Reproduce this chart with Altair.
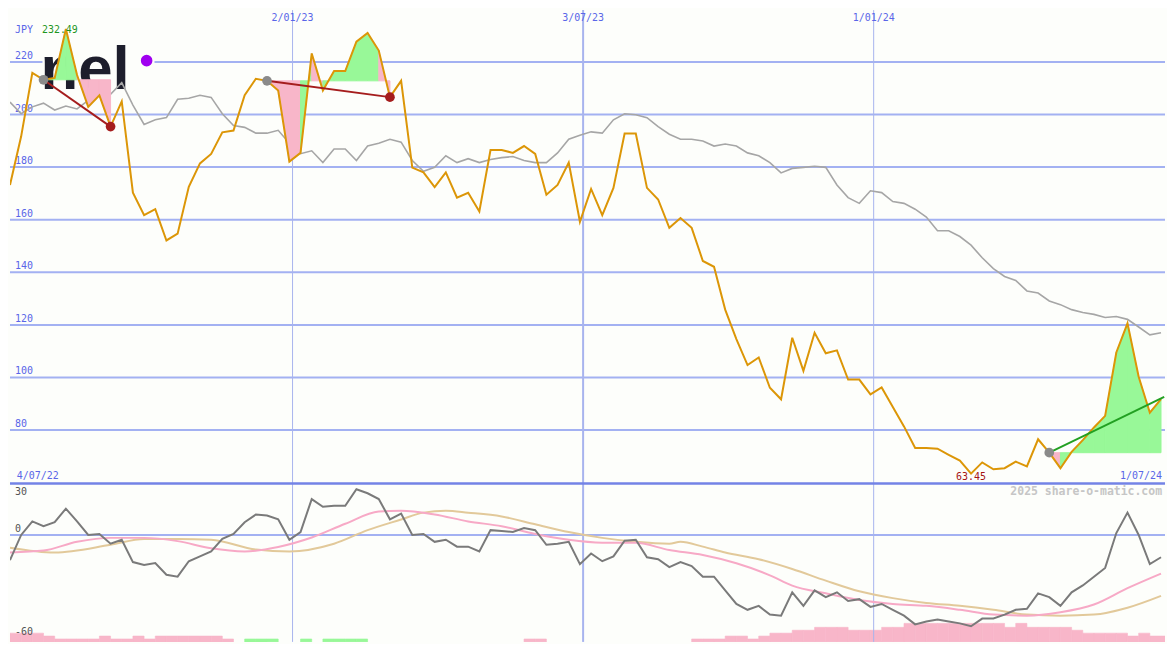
import altair as alt
import pandas as pd

# ---------------- data ----------------
DATES = pd.date_range("2022-07-09", periods=105, freq="7D").strftime("%Y-%m-%d").tolist()

PRICE = [173.2, 191.7, 215.8, 213.2, 213.9, 232.49, 215.0, 202.9, 207.3, 195.4,
         205.0, 170.3, 161.7, 164.0, 152.1, 154.7, 172.5, 181.4, 185.0, 193.2,
         193.9, 207.3, 213.6, 212.8, 209.1, 182.1, 185.4, 223.2, 209.1, 216.5,
         216.5, 227.7, 231.0, 224.3, 206.6, 212.8, 179.8, 178.0, 172.4, 178.0,
         168.4, 170.2, 163.1, 186.5, 186.5, 185.4, 188.0, 185.0, 169.5, 173.2,
         181.7, 159.2, 171.7, 161.7, 172.1, 192.8, 192.8, 172.1, 167.7, 156.9,
         160.6, 156.9, 144.3, 142.1, 125.8, 114.6, 104.7, 107.6, 96.1, 91.7,
         115.1, 102.5, 117.0, 109.2, 110.3, 99.2, 99.2, 93.6, 96.2, 88.8,
         81.4, 73.2, 73.2, 72.9, 70.6, 68.4, 63.45, 67.7, 65.1, 65.5,
         68.0, 66.2, 76.5, 71.4, 65.5, 71.7, 76.2, 81.0, 85.4, 109.5,
         120.6, 100.3, 86.6, 91.8]

AVG = [204.7, 200.3, 202.9, 204.3, 201.7, 203.2, 202.1, 205.4, 209.9, 207.7,
       212.1, 203.6, 196.2, 198.0, 198.8, 205.8, 206.2, 207.3, 206.5, 200.3,
       195.8, 195.1, 192.9, 192.9, 194.0, 189.1, 185.1, 186.2, 181.7, 186.9,
       186.9, 182.5, 188.0, 189.1, 190.6, 189.5, 182.5, 178.4, 179.9, 184.3,
       181.7, 183.2, 181.7, 182.9, 183.6, 184.0, 182.5, 181.7, 181.7, 185.4,
       190.6, 192.1, 193.4, 192.9, 198.0, 200.3, 199.9, 198.8, 195.4, 192.5,
       190.6, 190.6, 189.9, 188.0, 188.8, 188.0, 185.4, 184.3, 181.7, 177.8,
       179.5, 179.9, 180.3, 179.9, 173.2, 168.4, 166.2, 171.0, 170.3, 166.9,
       166.2, 164.0, 161.0, 155.8, 155.8, 153.6, 150.3, 145.5, 141.4, 138.4,
       136.9, 132.9, 132.1, 129.1, 127.7, 125.8, 124.7, 124.0, 122.8, 123.2,
       122.1, 119.2, 116.2, 117.0]

OSC = [-14.7, 0.0, 7.9, 5.1, 7.4, 15.3, 7.9, 0.0, 0.6, -5.1,
       -2.8, -15.8, -17.5, -16.4, -23.2, -24.3, -15.3, -12.5, -9.6, -2.3,
       0.6, 7.4, 11.9, 11.3, 9.1, -2.8, 1.7, 20.9, 16.4, 17.0,
       17.0, 26.6, 24.3, 20.9, 9.1, 12.5, 0.0, 0.6, -4.0, -2.8,
       -6.8, -6.8, -9.6, 2.8, 2.3, 1.7, 4.0, 2.8, -5.7, -5.1,
       -4.0, -17.0, -10.8, -15.3, -12.5, -3.4, -2.8, -13.0, -14.1, -18.7,
       -15.8, -18.1, -24.3, -24.3, -32.3, -40.2, -43.6, -41.3, -46.4, -47.0,
       -33.4, -41.3, -32.3, -36.2, -33.4, -38.5, -37.4, -41.9, -40.2, -43.6,
       -47.0, -52.1, -50.4, -49.2, -50.4, -51.5, -53.2, -48.7, -48.7, -46.4,
       -43.6, -43.0, -34.0, -36.2, -41.3, -33.4, -29.4, -24.3, -19.2, 1.1,
       13.0, 0.0, -17.0, -13.0]

PINK_IDX = [0, 3, 6, 9, 12, 15, 18, 21, 24, 27, 30, 33, 35, 38, 41, 44, 47, 50, 53,
            56, 59, 62, 65, 68, 70, 73, 76, 79, 82, 85, 88, 91, 94, 97, 100, 103]
PINK_VAL = [-10.2, -9.1, -4.0, -1.7, -1.7, -3.6, -7.8, -9.6, -7.0, -1.5, 6.5, 13.6, 14.1,
            11.9, 7.9, 5.1, 0.6, -2.8, -4.5, -4.6, -8.8, -11.7, -16.5, -23.5, -29.5,
            -34.0, -37.9, -40.2, -41.3, -43.6, -46.4, -47.0, -45.0, -40.5, -31.0, -22.5]

TAN_IDX = [0, 4, 9, 12, 15, 18, 22, 25, 29, 32, 35, 37, 39, 41, 44, 47, 50, 53, 56,
           59, 60, 62, 64, 67, 70, 73, 76, 79, 82, 85, 88, 91, 94, 97, 100, 103]
TAN_VAL = [-7.4, -10.2, -5.7, -2.3, -2.3, -2.8, -8.5, -9.6, -5.1, 2.8, 9.0, 13.0, 14.1,
           13.0, 10.8, 6.2, 1.7, -1.7, -4.0, -5.1, -4.0, -6.8, -10.2, -14.1, -19.8,
           -26.6, -32.8, -36.8, -39.6, -41.3, -43.6, -46.4, -47.0, -46.4, -42.4, -35.5]

HIST = [5.1, 5.1, 5.1, 3.4, 1.7, 1.7, 1.7, 1.7, 3.4, 1.7,
        1.7, 3.4, 1.7, 3.4, 3.4, 3.4, 3.4, 3.4, 3.4, 1.7,
        0, 1.7, 1.7, 1.7, 0, 0, 1.7, 0, 1.7, 1.7,
        1.7, 1.7, 0, 0, 0, 0, 0, 0, 0, 0,
        0, 0, 0, 0, 0, 0, 1.7, 1.7, 0, 0,
        0, 0, 0, 0, 0, 0, 0, 0, 0, 0,
        0, 1.7, 1.7, 1.7, 3.4, 3.4, 1.7, 3.4, 5.1, 5.1,
        6.8, 6.8, 8.5, 8.5, 8.5, 6.8, 6.8, 6.8, 8.5, 8.5,
        10.8, 10.8, 10.8, 10.8, 10.8, 10.8, 10.8, 10.8, 10.8, 8.5,
        10.8, 8.5, 8.5, 8.5, 8.5, 6.8, 5.1, 5.1, 5.1, 5.1,
        3.4, 5.1, 3.4, 3.4]
HIST_GREEN = [21, 22, 23, 26, 28, 29, 30, 31]

UP_GRID = [80, 100, 120, 140, 160, 180, 200, 220]
LOW_LABELS = [30, 0, -60]
TICK_DATES = ["2023-01-02", "2023-07-03", "2024-01-01"]
TICK_LABELS = ["2/01/23", "3/07/23", "1/01/24"]
TICK_WIDTHS = [1, 2, 1]

FILL_START = [3, 23, 93]
FILL_COLORS = ["gggppp", "pppgpgggggp", "pggggggggg"]

TREND_START = [3, 23, 93]
TREND_END = [9, 34, None]
TREND3_END_DATE = "2024-07-01"
TREND3_END_VALUE = 92.6

# ---------------- style ----------------
W, H = 1159, 634
SX, SY = W / 1175, H / 650
H_UP = round(487 * SY)
H_LOW = H - H_UP
BG = "#fdfefb"
ORANGE = "#dc9607"
GRAYMA = "#a6a6a6"
OSC_C = "#7a7a7a"
PINKL = "#f7a9c6"
TANL = "#e2c99a"
GRID = "#a3b1f2"
SEP = "#7383e6"
LBL = "#5a66e8"
GFILL = "#98f898"
PFILL = "#f8b6c9"
TRED = "#a51d1d"
TGREEN = "#22a022"
MONO = "DejaVu Sans Mono"

XS = alt.Scale(type="utc", domain=[alt.DateTime(year=2022, month=7, date=9, utc=True),
                                   alt.DateTime(year=2024, month=7, date=1, hours=12, utc=True)])
YU = alt.Scale(domain=[59.7, 239.7], nice=False, zero=False)
YL = alt.Scale(domain=[-62.3, 30], nice=False, zero=False)


def X(f):
    return alt.X(f, type="temporal", scale=XS, axis=None)


def YUp(f):
    return alt.Y(f, type="quantitative", scale=YU, axis=None)


def YLo(f):
    return alt.Y(f, type="quantitative", scale=YL, axis=None)


df = pd.DataFrame({"date": DATES[:104], "price": PRICE, "avg": AVG, "osc": OSC})
df_grid = pd.DataFrame({"v": UP_GRID, "t": [str(v) for v in UP_GRID]})
df_vt = pd.DataFrame({"date": TICK_DATES, "w": TICK_WIDTHS, "t": TICK_LABELS})

fill_rows = []
for k, (s, cols) in enumerate(zip(FILL_START, FILL_COLORS)):
    base = PRICE[s]
    for j, c in enumerate(cols):
        i = s + j
        for ii in (i, i + 1):
            fill_rows.append({"seg": f"{k}-{j}", "date": DATES[ii], "price": PRICE[ii],
                              "base": base, "col": GFILL if c == "g" else PFILL})
df_fill = pd.DataFrame(fill_rows)

trend_rows, dot_rows = [], []
for k, (s, e) in enumerate(zip(TREND_START, TREND_END)):
    col = TRED if e is not None else TGREEN
    trend_rows.append({"seg": k, "date": DATES[s], "v": PRICE[s], "col": col})
    dot_rows.append({"date": DATES[s], "v": PRICE[s], "col": "#8a8a8a"})
    if e is not None:
        trend_rows.append({"seg": k, "date": DATES[e], "v": PRICE[e], "col": col})
        dot_rows.append({"date": DATES[e], "v": PRICE[e], "col": TRED})
    else:
        trend_rows.append({"seg": k, "date": TREND3_END_DATE, "v": TREND3_END_VALUE, "col": col})
df_trend = pd.DataFrame(trend_rows)
df_dots = pd.DataFrame(dot_rows)

imax = PRICE.index(max(PRICE))
imin = PRICE.index(min(PRICE))
df_ext = pd.DataFrame([
    {"date": DATES[imax], "v": PRICE[imax], "t": f"{PRICE[imax]:.2f}", "col": "#1e961e"},
])
df_min = pd.DataFrame([{"date": DATES[imin], "v": PRICE[imin], "t": f"{PRICE[imin]:.2f}"}])

# ---------------- upper panel ----------------
hgrid = alt.Chart(df_grid).mark_rule(color=GRID, strokeWidth=2).encode(y=YUp("v"))
vgrid_up = alt.Chart(df_vt).mark_rule(color="#a8b4ee").encode(
    x=X("date"), strokeWidth=alt.StrokeWidth("w:Q", scale=None))
logo_box = alt.Chart(df.head(1)).mark_rect(color=BG).encode(
    x=alt.value(33 * SX), x2=alt.value(147 * SX), y=alt.value(33 * SY), y2=alt.value(83 * SY))
logo = alt.Chart(df.head(1)).mark_text(
    text="nel", font="Liberation Sans", fontWeight="bold", fontSize=62, color="#1d1e2c",
    align="left", baseline="alphabetic").encode(x=alt.value(31 * SX), y=alt.value(81 * SY))
logo_dot = alt.Chart(df.head(1)).mark_circle(color="#a000f0", opacity=1, size=135).encode(
    x=alt.value(139 * SX), y=alt.value(52 * SY))
ylabels = alt.Chart(df_grid).mark_text(font=MONO, fontSize=10, color=LBL, align="left",
                                       baseline="bottom", dy=-1).encode(
    x=alt.value(5), y=YUp("v"), text="t:N")
avg_line = alt.Chart(df).mark_line(color=GRAYMA, strokeWidth=1.6, clip=True).encode(
    x=X("date"), y=YUp("avg"))
fills = alt.Chart(df_fill).mark_area(opacity=1, clip=True, strokeWidth=1).encode(
    x=X("date"), y=YUp("price"), y2="base:Q", detail="seg:N",
    color=alt.Color("col:N", scale=None), stroke=alt.Stroke("col:N", scale=None))
price_line = alt.Chart(df).mark_line(color=ORANGE, strokeWidth=2, clip=True).encode(
    x=X("date"), y=YUp("price"))
trends = alt.Chart(df_trend).mark_line(strokeWidth=2, clip=True).encode(
    x=X("date"), y=YUp("v"), detail="seg:N", color=alt.Color("col:N", scale=None))
dots = alt.Chart(df_dots).mark_circle(size=95, opacity=1).encode(
    x=X("date"), y=YUp("v"), color=alt.Color("col:N", scale=None))
top_dates = alt.Chart(df_vt).mark_text(font=MONO, fontSize=10, color=LBL, baseline="middle").encode(
    x=X("date"), y=alt.value(8 * SY), text="t:N")
jpy = alt.Chart(df.head(1)).mark_text(text="JPY", font=MONO, fontSize=10, color=LBL,
                                      align="left", baseline="middle").encode(
    x=alt.value(5), y=alt.value(21 * SY))
max_lbl = alt.Chart(df_ext).mark_text(font=MONO, fontSize=10, baseline="middle", dx=-6, dy=1).encode(
    x=X("date"), y=YUp("v"), text="t:N", color=alt.Color("col:N", scale=None))
min_lbl = alt.Chart(df_min).mark_text(font=MONO, fontSize=10, baseline="middle", color="#a51414",
                                      dy=3).encode(x=X("date"), y=YUp("v"), text="t:N")
left_date = alt.Chart(df.head(1)).mark_text(text="4/07/22", font=MONO, fontSize=10, color=LBL,
                                            align="left", baseline="middle").encode(
    x=alt.value(7 * SX), y=alt.value(479 * SY))
right_date = alt.Chart(df.head(1)).mark_text(text="1/07/24", font=MONO, fontSize=10, color=LBL,
                                             align="right", baseline="middle").encode(
    x=alt.value(1172 * SX), y=alt.value(479 * SY))

upper = alt.layer(hgrid, vgrid_up, logo_box, logo, logo_dot, ylabels, avg_line, fills,
                  price_line, trends, dots, top_dates, jpy, max_lbl, min_lbl,
                  left_date, right_date).properties(width=W, height=H_UP)

# ---------------- lower panel ----------------
hist_rows = []
for i, h in enumerate(HIST):
    if h > 0:
        hist_rows.append({"date": DATES[i], "date2": DATES[i + 1], "lo": YL.domain[0],
                          "hi": YL.domain[0] + h, "col": GFILL if i in HIST_GREEN else PFILL})
df_hist = pd.DataFrame(hist_rows)
df_pink = pd.DataFrame({"date": [DATES[i] for i in PINK_IDX], "v": PINK_VAL})
df_tan = pd.DataFrame({"date": [DATES[i] for i in TAN_IDX], "v": TAN_VAL})
df_low_lbl = pd.DataFrame({"v": LOW_LABELS, "t": [str(v) for v in LOW_LABELS]})

bars = alt.Chart(df_hist).mark_rect(clip=True, strokeWidth=0.6).encode(
    x=X("date"), x2="date2:T", y=YLo("lo"), y2="hi:Q",
    color=alt.Color("col:N", scale=None), stroke=alt.Stroke("col:N", scale=None))
zero_line = alt.Chart(pd.DataFrame({"v": [0]})).mark_rule(color=GRID, strokeWidth=2).encode(y=YLo("v"))
sep_line = alt.Chart(pd.DataFrame({"v": [30]})).mark_rule(color=SEP, strokeWidth=2.5).encode(y=YLo("v"))
vgrid_low = alt.Chart(df_vt).mark_rule(color="#a8b4ee").encode(
    x=X("date"), strokeWidth=alt.StrokeWidth("w:Q", scale=None))
tan_line = alt.Chart(df_tan).mark_line(color=TANL, strokeWidth=2, interpolate="monotone", clip=True).encode(
    x=X("date"), y=YLo("v"))
pink_line = alt.Chart(df_pink).mark_line(color=PINKL, strokeWidth=2, interpolate="monotone", clip=True).encode(
    x=X("date"), y=YLo("v"))
osc_line = alt.Chart(df).mark_line(color=OSC_C, strokeWidth=2, clip=True).encode(
    x=X("date"), y=YLo("osc"))
lbl_top = alt.Chart(df_low_lbl[df_low_lbl.v == 30]).mark_text(
    font=MONO, fontSize=10, color="#555555", align="left", baseline="top", dy=4).encode(
    x=alt.value(5), y=YLo("v"), text="t:N")
lbl_rest = alt.Chart(df_low_lbl[df_low_lbl.v != 30]).mark_text(
    font=MONO, fontSize=10, color="#555555", align="left", baseline="bottom", dy=-1).encode(
    x=alt.value(5), y=YLo("v"), text="t:N")
watermark = alt.Chart(df.head(1)).mark_text(
    text="2025 share-o-matic.com", font=MONO, fontWeight="bold", fontSize=11.5, color="#c6c6c6",
    align="right", baseline="middle").encode(x=alt.value(1172 * SX), y=alt.value(9 * SY))

lower = alt.layer(bars, zero_line, vgrid_low, tan_line, pink_line, osc_line, sep_line,
                  lbl_top, lbl_rest, watermark).properties(width=W, height=H_LOW)

chart = alt.vconcat(upper, lower, spacing=0, bounds="flush", padding=0,
                    background=BG).configure_view(stroke=None)

chart.save("out.html", embed_options={"renderer": "svg", "actions": False})
